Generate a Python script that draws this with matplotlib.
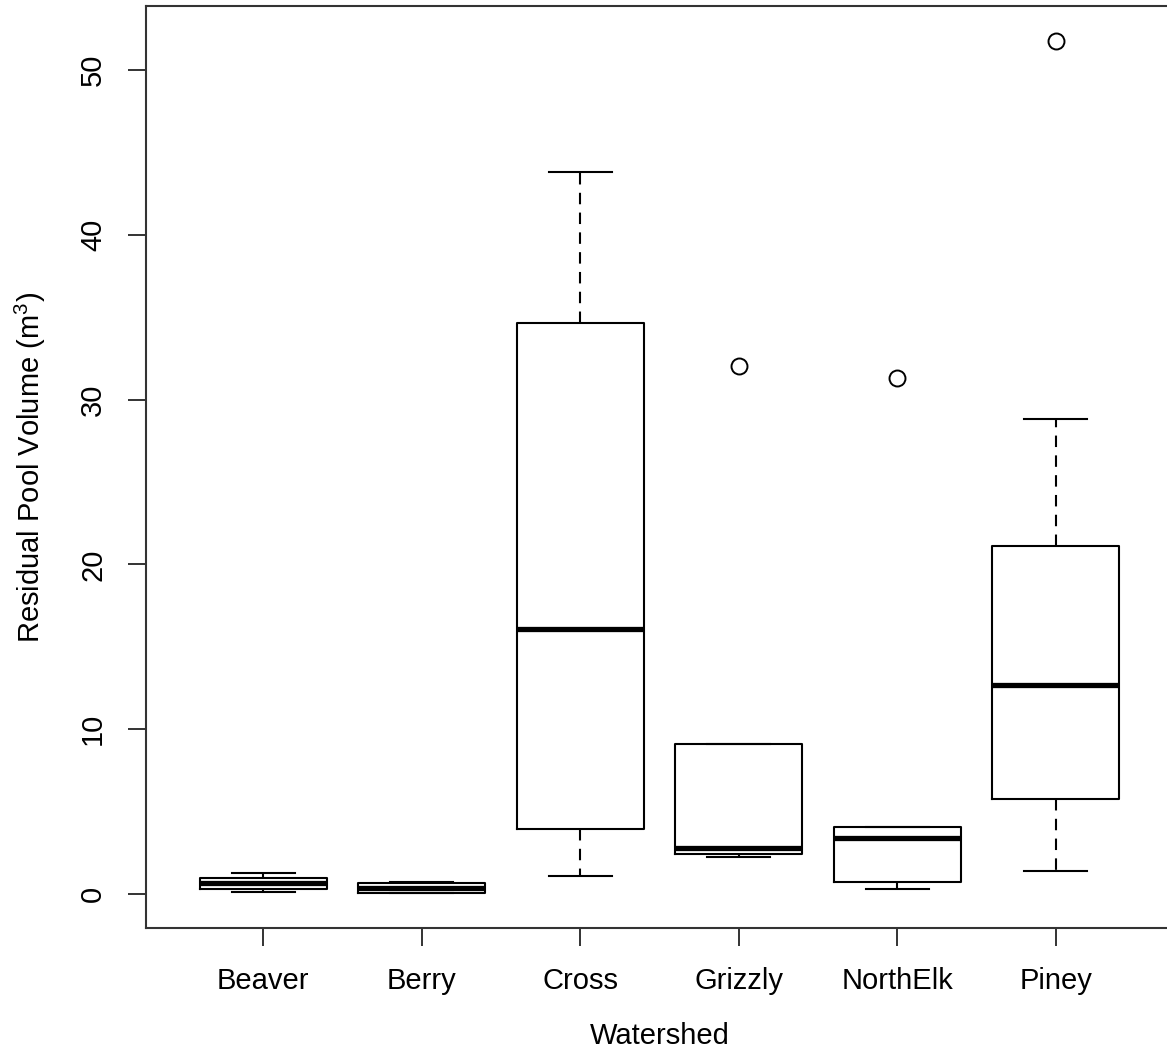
import matplotlib
matplotlib.use("Agg")
import matplotlib.pyplot as plt

plt.rcParams["font.family"] = ["Liberation Sans", "DejaVu Sans"]
plt.rcParams["mathtext.fontset"] = "custom"
plt.rcParams["mathtext.rm"] = "Liberation Sans"
plt.rcParams["mathtext.it"] = "Liberation Sans:italic"

# Five-number summaries per watershed (m^3)
watersheds = ["Beaver", "Berry", "Cross", "Grizzly", "NorthElk", "Piney"]
whisker_low = [0.14, 0.04, 1.09, 2.26, 0.30, 1.40]
quartile_1 = [0.30, 0.08, 3.94, 2.40, 0.71, 5.75]
medians = [0.64, 0.38, 16.10, 2.81, 3.38, 12.70]
quartile_3 = [0.99, 0.69, 34.67, 9.10, 4.07, 21.10]
whisker_high = [1.25, 0.70, 43.83, 9.10, 4.07, 28.80]
outliers = [[], [], [], [32.04], [31.30], [51.76]]

stats = []
for name, lo, q1, med, q3, hi, fl in zip(watersheds, whisker_low, quartile_1,
                                         medians, quartile_3, whisker_high, outliers):
    stats.append(dict(label=name, whislo=lo, q1=q1, med=med, q3=q3,
                      whishi=hi, fliers=fl))

fig = plt.figure(figsize=(11.67, 10.51), dpi=100)
ax = fig.add_axes([146 / 1167, (1051 - 928) / 1051, 1027 / 1167, 922 / 1051])

lw = 1.5
ax.bxp(
    stats,
    positions=range(1, len(watersheds) + 1),
    widths=0.8,
    capwidths=0.4,
    boxprops=dict(color="black", linewidth=lw),
    medianprops=dict(color="black", linewidth=3.8, solid_capstyle="butt"),
    whiskerprops=dict(color="black", linewidth=lw, linestyle=(0, (5.5, 4))),
    capprops=dict(color="black", linewidth=lw),
    flierprops=dict(marker="o", markersize=11.5, markerfacecolor="none",
                    markeredgecolor="black", markeredgewidth=1.4, linestyle="none"),
)

ax.set_xlim(0.26, 6.74)
ax.set_ylim(-2.07, 53.9)
ax.set_xticks(range(1, len(watersheds) + 1))
ax.set_xticklabels(watersheds)
ax.set_yticks([0, 10, 20, 30, 40, 50])

for s in ax.spines.values():
    s.set_linewidth(1.5)
    s.set_color("#333333")

ax.tick_params(axis="both", length=13, width=1.4, color="#333333",
               labelsize=21, labelcolor="black")
ax.tick_params(axis="x", pad=15)
ax.tick_params(axis="y", pad=15)
for t in ax.get_yticklabels():
    t.set_rotation(90)
    t.set_va("center")

ax.set_xlabel("Watershed", fontsize=21, va="center")
ax.set_ylabel("Residual Pool Volume (m$^3$)", fontsize=21, va="center")
ax.xaxis.set_label_coords(0.5, -(1036 - 928) / 922)
ax.yaxis.set_label_coords(-(146 - 30) / 1027, 0.5)

fig.savefig("out.png", dpi=100)
